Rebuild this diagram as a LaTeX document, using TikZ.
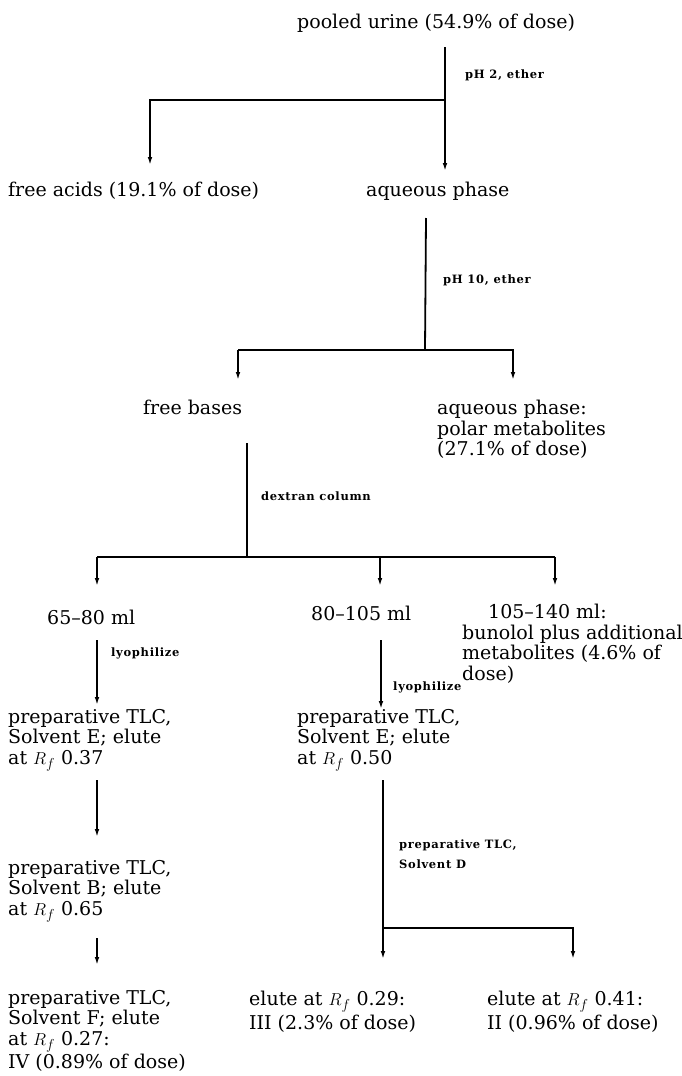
\documentclass[tikz,border=0pt]{standalone}
\usepackage{fontspec}
\setmainfont{DejaVu Serif}
\newfontfamily\labfont[LetterSpace=6]{DejaVu Serif}
\usetikzlibrary{arrows.meta}
\tikzset{
  txt/.style={anchor=base west, inner sep=0pt, font=\fontsize{19}{20.5}\selectfont, align=left},
  blk/.style={anchor=north west, inner sep=0pt, font=\fontsize{19}{20.5}\selectfont, align=left},
  lab/.style={anchor=base west, inner sep=0pt, font=\labfont\bfseries\fontsize{11.5}{20}\selectfont, align=left},
  flow/.style={line width=1.8pt},
  arr/.style={line width=1.8pt, -{Latex[length=9pt,width=4.5pt]}},
}
\begin{document}
\begin{tikzpicture}[x=1pt,y=-1pt]
\useasboundingbox (0,0) rectangle (681,1076);
% nodes
\node[txt] (urine) at (297,28) {pooled urine (54.9\% of dose)};
\node[txt] (acids) at (8,196) {free acids (19.1\% of dose)};
\node[txt] (aq1) at (366,196) {aqueous phase};
\node[txt] (bases) at (143,414) {free bases};
\node[blk] (aq2) at (437,400) {aqueous phase:\\polar metabolites\\(27.1\% of dose)};
\node[txt] (f1) at (47,624) {65--80 ml};
\node[txt] (f2) at (311,620) {80--105 ml};
\node[blk] (f3) at (462,604) {\hspace*{26pt}105--140 ml:\\bunolol plus additional\\metabolites (4.6\% of\\dose)};
\node[blk] (tlcE1) at (8,709) {preparative TLC,\\Solvent E; elute\\at $R_f$ 0.37};
\node[blk] (tlcE2) at (297,709) {preparative TLC,\\Solvent E; elute\\at $R_f$ 0.50};
\node[blk] (tlcB) at (8,860) {preparative TLC,\\Solvent B; elute\\at $R_f$ 0.65};
\node[blk] (tlcF) at (8,990) {preparative TLC,\\Solvent F; elute\\at $R_f$ 0.27:\\[1pt]IV (0.89\% of dose)};
\node[blk] (III) at (249,991) {elute at $R_f$ 0.29:\\[2pt]III (2.3\% of dose)};
\node[blk] (II) at (487,991) {elute at $R_f$ 0.41:\\[2pt]II (0.96\% of dose)};
% labels
\node[lab] (l1) at (465,78) {pH 2, ether};
\node[lab] (l2) at (443,283) {pH 10, ether};
\node[lab] (l3) at (261,500) {dextran column};
\node[lab] (l4) at (111,656) {lyophilize};
\node[lab] (l5) at (393,690) {lyophilize};
\node[lab,anchor=north west] (l6) at (399,840) {preparative TLC,\\Solvent D};
% junction coordinates
\coordinate (s1) at (445,47);
\coordinate (j1) at (445,100);
\coordinate (c1) at (150,100);
\coordinate (t1a) at (150,166);
\coordinate (t1b) at (445,172);
\coordinate (s2) at (426,218);
\coordinate (j2) at (425,350);
\coordinate (c2l) at (238,350);
\coordinate (c2r) at (513,350);
\coordinate (t2a) at (238,381);
\coordinate (t2b) at (513,381);
\coordinate (s3) at (247,443);
\coordinate (j3) at (247,557);
\coordinate (c3l) at (97,557);
\coordinate (c3m) at (380,557);
\coordinate (c3r) at (555,557);
\coordinate (t3a) at (97,587);
\coordinate (t3b) at (380,587);
\coordinate (t3c) at (555,587);
\coordinate (s4) at (97,640);
\coordinate (t4) at (97,706);
\coordinate (s5) at (381,640);
\coordinate (t5) at (381,710);
\coordinate (s6) at (97,780);
\coordinate (t6) at (97,838);
\coordinate (s7) at (383,780);
\coordinate (j7) at (383,928);
\coordinate (c7) at (573,928);
\coordinate (t7a) at (383,960);
\coordinate (t7b) at (573,960);
\coordinate (s8) at (97,938);
\coordinate (t8) at (97,966);
% connectors
\draw[flow] (s1) -- (j1);
\draw[arr] (j1) -- (t1b);
\draw[arr] (j1) -- (c1) -- (t1a);
\draw[flow] (s2) -- (j2);
\draw[arr] (c2l) -- (c2r) -- (t2b);
\draw[arr] (c2l) -- (t2a);
\draw[flow] (s3) -- (j3);
\draw[flow] (c3l) -- (c3r);
\draw[arr] (c3l) -- (t3a);
\draw[arr] (c3m) -- (t3b);
\draw[arr] (c3r) -- (t3c);
\draw[arr] (s4) -- (t4);
\draw[arr] (s5) -- (t5);
\draw[arr] (s6) -- (t6);
\draw[flow] (s7) -- (j7);
\draw[arr] (j7) -- (t7a);
\draw[arr] (j7) -- (c7) -- (t7b);
\draw[arr] (s8) -- (t8);
\end{tikzpicture}
\end{document}
